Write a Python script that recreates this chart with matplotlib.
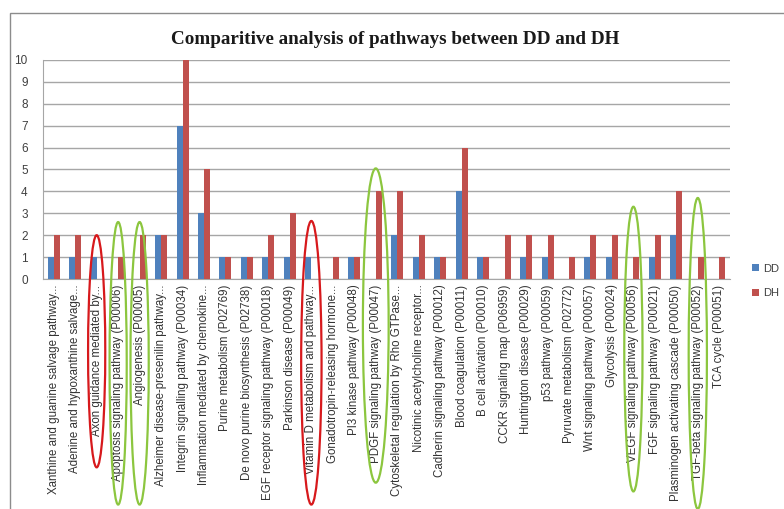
import matplotlib
matplotlib.use("Agg")
import matplotlib.pyplot as plt
from matplotlib.patches import Ellipse, Rectangle
import numpy as np

categories = [
    "Xanthine and guanine salvage pathway...",
    "Adenine and hypoxanthine salvage...",
    "Axon guidance mediated by...",
    "Apoptosis signaling pathway (P00006)",
    "Angiogenesis (P00005)",
    "Alzheimer disease-presenilin pathway...",
    "Integrin signalling pathway (P00034)",
    "Inflammation mediated by chemokine...",
    "Purine metabolism (P02769)",
    "De novo purine biosynthesis (P02738)",
    "EGF receptor signaling pathway (P00018)",
    "Parkinson disease (P00049)",
    "Vitamin D metabolism and pathway...",
    "Gonadotropin-releasing hormone...",
    "PI3 kinase pathway (P00048)",
    "PDGF signaling pathway (P00047)",
    "Cytoskeletal regulation by Rho GTPase...",
    "Nicotinic acetylcholine receptor...",
    "Cadherin signaling pathway (P00012)",
    "Blood coagulation (P00011)",
    "B cell activation (P00010)",
    "CCKR signaling map (P06959)",
    "Huntington disease (P00029)",
    "p53 pathway (P00059)",
    "Pyruvate metabolism (P02772)",
    "Wnt signaling pathway (P00057)",
    "Glycolysis (P00024)",
    "VEGF signaling pathway (P00056)",
    "FGF signaling pathway (P00021)",
    "Plasminogen activating cascade (P00050)",
    "TGF-beta signaling pathway (P00052)",
    "TCA cycle (P00051)",
]
dd = [1, 1, 1, 0, 0, 2, 7, 3, 1, 1, 1, 1, 1, 0, 1, 0, 2, 1, 1, 4, 1, 0, 1, 1, 0, 1, 1, 0, 1, 2, 0, 0]
dh = [2, 2, 0, 1, 2, 2, 10, 5, 1, 1, 2, 3, 0, 1, 1, 4, 4, 2, 1, 6, 1, 2, 2, 2, 1, 2, 2, 1, 2, 4, 1, 1]
yticks = list(range(0, 11))

red_marks = ["Axon guidance mediated by...", "Vitamin D metabolism and pathway..."]
green_marks = ["Apoptosis signaling pathway (P00006)", "Angiogenesis (P00005)",
               "PDGF signaling pathway (P00047)", "VEGF signaling pathway (P00056)",
               "TGF-beta signaling pathway (P00052)"]

W, H = 784, 509
fig = plt.figure(figsize=(W / 100, H / 100), dpi=100)
fig.patch.set_facecolor("white")

# outer chart border
fig.add_artist(Rectangle((10 / W, -0.05), 1.2, (H - 13) / H + 0.05, transform=fig.transFigure,
                         fill=False, edgecolor="#8c8c8c", linewidth=1.0))

left, right, top, bottom = 43, 730, 60, 279
ax = fig.add_axes([left / W, 1 - bottom / H, (right - left) / W, (bottom - top) / H])

x = np.arange(len(categories))
bw = 0.28
blue = "#4F81BD"
red = "#C0504D"
ax.bar(x - bw / 2, dd, width=bw, color=blue, label="DD", zorder=3)
ax.bar(x + bw / 2, dh, width=bw, color=red, label="DH", zorder=3)

ax.set_xlim(-0.5, len(categories) - 0.5)
ax.set_ylim(0, 10)
ax.set_yticks(yticks)
ax.set_yticklabels([str(v) for v in yticks], fontsize=8.5, color="#404040", family="Liberation Sans")
ax.yaxis.grid(True, color="#a6a6a6", linewidth=1.0, zorder=0)
ax.set_axisbelow(True)
ax.tick_params(axis="y", length=0, pad=11)
ax.set_xticks(x)
ax.set_xticklabels(categories, rotation=90, fontsize=8.3, color="#333333",
                   family="Liberation Sans", va="top", ha="center")
ax.tick_params(axis="x", length=0, pad=4)
for s in ["top", "right"]:
    ax.spines[s].set_visible(False)
ax.spines["left"].set_color("#a6a6a6")
ax.spines["bottom"].set_color("#a6a6a6")

fig.text(395 / W, 1 - 40 / H, "Comparitive analysis of pathways between DD and DH",
         ha="center", va="center", fontsize=13.8, fontweight="bold",
         family="Liberation Serif", color="#1a1a1a")

leg = fig.legend(loc="center left", bbox_to_anchor=(742 / W, 1 - 281 / H), frameon=False,
                 handlelength=0.6, handleheight=0.6, handletextpad=0.4,
                 labelspacing=1.3, prop={"family": "Liberation Sans", "size": 8})
for t in leg.get_texts():
    t.set_color("#404040")

# annotation ellipses around highlighted labels (x in data, y in axes fraction)
trans = ax.get_xaxis_transform()
ell_specs = {
    "Axon guidance mediated by...": (0.20, -0.86, 0.8),
    "Apoptosis signaling pathway (P00006)": (0.26, -1.03, 0.8),
    "Angiogenesis (P00005)": (0.26, -1.03, 0.85),
    "Vitamin D metabolism and pathway...": (0.265, -1.03, 0.95),
    "PDGF signaling pathway (P00047)": (0.505, -0.93, 1.2),
    "VEGF signaling pathway (P00056)": (0.33, -0.97, 0.85),
    "TGF-beta signaling pathway (P00052)": (0.37, -1.05, 0.85),
}
for name, (ytop, ybot, w) in ell_specs.items():
    i = categories.index(name)
    col = "#d7191c" if name in red_marks else "#8cc63f"
    e = Ellipse((i, (ytop + ybot) / 2), width=w, height=ytop - ybot, transform=trans,
                fill=False, edgecolor=col, linewidth=1.6, clip_on=False, zorder=5)
    ax.add_patch(e)

fig.savefig("out.png", dpi=100, facecolor="white")
